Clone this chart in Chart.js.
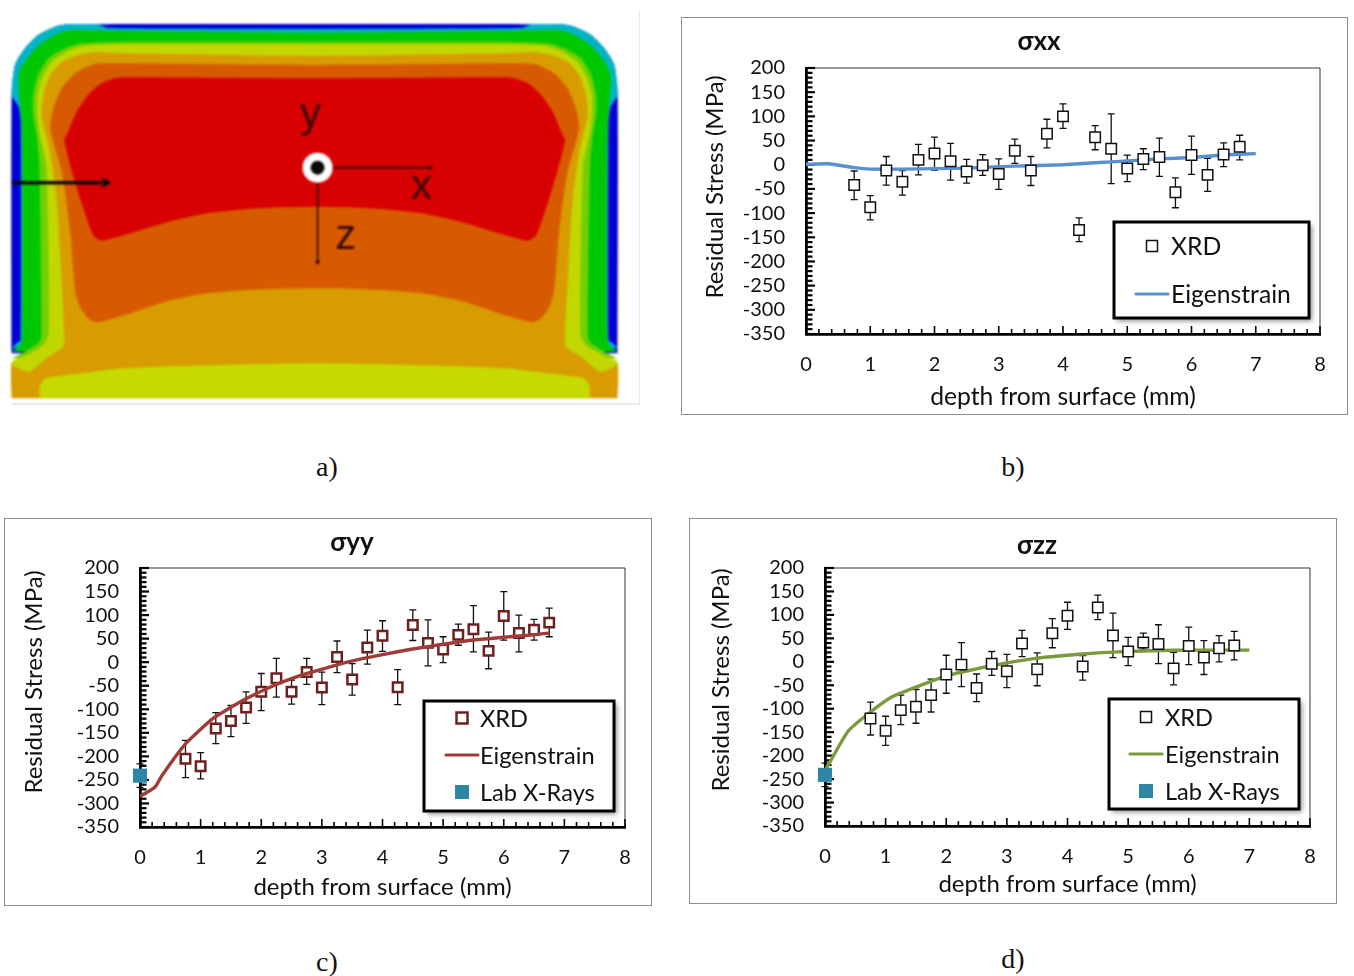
<!DOCTYPE html>
<html>
<head>
<meta charset="utf-8">
<title>Residual stress</title>
<script src="https://cdn.jsdelivr.net/npm/chart.js@4/dist/chart.umd.min.js"></script>
<style>
  html, body { margin: 0; width: 1354px; height: 976px; background: #fff; overflow: hidden; }
  canvas { position: absolute; }
  .panel { position: absolute; border: 1px solid #8c8c8c; box-sizing: border-box; }
  .cap { position: absolute; font: 28px "Liberation Serif", serif; color: #111; transform: translate(-50%, -50%); }
  .edge { position: absolute; background: #e9e9e9; }
</style>
</head>
<body>
<div class="edge" style="left:12px;top:403px;width:628px;height:2px"></div>
<div class="edge" style="left:639px;top:10px;width:1px;height:394px"></div>
<div class="panel" style="left:681px;top:17px;width:667px;height:398px"></div>
<div class="panel" style="left:4px;top:518px;width:648px;height:388px"></div>
<div class="panel" style="left:689px;top:518px;width:648px;height:386px"></div>
<canvas id="contour" width="650" height="420" style="left:0;top:0;filter:blur(1.1px)"></canvas>
<canvas id="chart-xx" width="664" height="396" style="left:682px;top:18px"></canvas>
<canvas id="chart-yy" width="645" height="386" style="left:5px;top:519px"></canvas>
<canvas id="chart-zz" width="645" height="384" style="left:690px;top:519px"></canvas>
<div class="cap" style="left:327px;top:467px">a)</div>
<div class="cap" style="left:1013px;top:467px">b)</div>
<div class="cap" style="left:327px;top:962px">c)</div>
<div class="cap" style="left:1013px;top:959px">d)</div>
<script>
// XRD depths are the same for all three stress components
const depths = [0.75, 1, 1.25, 1.5, 1.75, 2, 2.25, 2.5, 2.75, 3, 3.25, 3.5, 3.75, 4, 4.25, 4.5, 4.75, 5, 5.25, 5.5, 5.75, 6, 6.25, 6.5, 6.75];

const xxValues = [-42, -88, -12, -35, 10, 23, 7, -14, -1, -19, 29, -12, 64, 100, -135, 57, 33, -8, 12, 16, -57, 20, -21, 21, 37];
const xxHigh = [-13, -64, 17, -12, 42, 57, 44, 11, 21, 12, 53, 17, 94, 126, -110, 81, 105, 20, 33, 55, -27, 59, 13, 45, 61];
const xxLow = [-72, -114, -42, -63, -21, -11, -32, -38, -22, -51, 3, -43, 35, 75, -159, 31, -39, -35, -10, -24, -89, -20, -55, -4, 10];
const xxLineDepth = [0, 0.35, 0.75, 1, 1.5, 2, 2.5, 3, 3.5, 4, 4.5, 5, 5.5, 6, 6.5, 7];
const xxLine = [1, 2, -6, -9, -9, -8, -7, -4, -2, 0, 4, 8, 12, 15, 20, 23];

const yyValues = [-205, -221, -141, -125, -96, -63, -34, -63, -21, -54, 11, -37, 31, 56, -53, 79, 41, 27, 58, 70, 24, 98, 62, 69, 84];
const yyHigh = [-166, -192, -107, -92, -63, -24, 8, -38, 8, -21, 45, -3, 68, 88, -16, 111, 90, 54, 81, 120, 64, 150, 100, 91, 115];
const yyLow = [-245, -248, -173, -158, -130, -103, -74, -89, -47, -90, -22, -70, -4, 23, -90, 46, -8, -1, 36, 22, -14, 47, 22, 47, 54];
const yyLineDepth = [0, 0.25, 0.36, 0.74, 1.2, 1.7, 2.2, 2.7, 3, 3.45, 4, 4.5, 5, 5.5, 6, 6.5, 6.75];
const yyLine = [-285, -265, -241, -175, -120, -81, -50, -26, -15, 1, 16, 28, 38, 47, 53, 58, 62];

const zzValues = [-121, -147, -103, -96, -71, -27, -6, -56, -4, -20, 39, -16, 61, 98, -10, 116, 56, 22, 41, 38, -14, 34, 9, 29, 35];
const zzHigh = [-86, -116, -71, -59, -37, 14, 41, -26, 22, 16, 67, 19, 92, 127, 13, 142, 104, 52, 61, 79, 20, 74, 45, 56, 65];
const zzLow = [-156, -178, -134, -131, -107, -67, -53, -85, -29, -55, 11, -51, 30, 69, -39, 90, 9, -8, 27, -4, -49, -6, -27, 0, 4];
const zzLineDepth = [0, 0.38, 0.75, 1.1, 1.5, 2, 2.75, 3.5, 4, 4.5, 5, 5.5, 6, 6.5, 7];
const zzLine = [-232, -148, -107, -75, -54, -30, -8, 8, 14, 19, 22, 24, 25, 25, 25];

const labDepth = [0];
const labValue = [-241];
const labHigh = [-216];
const labLow = [-266];

const depthTicks = [0, 1, 2, 3, 4, 5, 6, 7, 8];
const stressTicks = [200, 150, 100, 50, 0, -50, -100, -150, -200, -250, -300, -350];

// contour bands for panel a, left half only, in the units of its hidden axes
const blueBand = [[28, 1060], [28, 285], [36, 195], [60, 145], [92, 105], [133, 80], [165, 73], [759, 72]];
const cyanBand = [[28, 1045], [40, 1030], [50, 1020], [50, 370], [45, 320], [28, 285], [36, 195], [60, 145], [92, 105], [133, 80], [165, 73], [235, 73], [260, 84], [759, 86]];
const greenBand = [[28, 1055], [50, 1035], [54, 1000], [54, 450], [51, 345], [44, 245], [48, 210], [72, 165], [100, 130], [141, 100], [173, 90], [300, 93], [759, 98]];
const limeBand = [[28, 1075], [60, 1055], [92, 1030], [100, 1010], [95, 500], [88, 400], [80, 345], [80, 285], [92, 225], [117, 175], [157, 145], [197, 130], [302, 125], [759, 125]];
const yellowBand = [[28, 1125], [28, 1085], [65, 1065], [105, 1035], [118, 1000], [112, 500], [95, 400], [90, 345], [90, 285], [102, 232], [125, 185], [165, 152], [205, 137], [302, 133], [759, 133]];
const orangeBand = [[28, 1195], [28, 1095], [52, 1110], [72, 1115], [88, 1100], [117, 1070], [153, 1040], [155, 1000], [147, 800], [137, 600], [120, 450], [108, 390], [100, 345], [105, 285], [121, 225], [149, 185], [189, 165], [229, 157], [302, 160], [759, 168]];
const baseBand = [[96, 1195], [96, 1160], [109, 1135], [133, 1130], [302, 1105], [450, 1098], [759, 1090]];
const darkBand = [[759, 865], [680, 866], [600, 870], [500, 880], [400, 905], [302, 945], [233, 967], [213, 955], [193, 920], [181, 870], [170, 700], [150, 520], [121, 385], [129, 325], [149, 265], [181, 220], [221, 195], [253, 190], [302, 190], [759, 195]];
const redBand = [[759, 620], [680, 622], [600, 627], [500, 640], [400, 668], [300, 705], [245, 722], [225, 705], [200, 620], [175, 520], [155, 420], [161, 405], [185, 335], [213, 285], [245, 250], [278, 235], [302, 232], [759, 235]];

const bands = [blueBand, cyanBand, greenBand, limeBand, yellowBand, orangeBand, baseBand, darkBand, redBand];
const bandColors = ['#0000d2', '#00b4c4', '#00c800', '#70d000', '#c2d600', '#d89c00', '#c6da00', '#d85a00', '#d80000'];

const FONT = 'Lato, "Open Sans", sans-serif';

function mirror(half) {
  const rest = half.slice(0, -1).reverse().map(p => ({ x: 1520 - p[0], y: p[1] }));
  return half.map(p => ({ x: p[0], y: p[1] })).concat(rest);
}

function drawContour() {
  const sets = bands.map((band, i) => ({
    data: mirror(band),
    showLine: true,
    tension: 0.2,
    fill: 'shape',
    backgroundColor: bandColors[i],
    borderColor: bandColors[i],
    borderWidth: 0,
    pointRadius: 0,
    order: 20 - i
  }));

  // arrows and the origin marker
  sets.push({ data: [{ x: 28, y: 548 }, { x: 245, y: 548 }], showLine: true, borderColor: '#0a0a0a', borderWidth: 3.5, pointRadius: 0, order: 5 });
  sets.push({ data: [{ x: 255, y: 548 }], pointStyle: 'triangle', rotation: 90, pointRadius: 6, backgroundColor: '#0a0a0a', borderWidth: 0, order: 4 });
  sets.push({ data: [{ x: 805, y: 503 }, { x: 1040, y: 503 }], showLine: true, borderColor: '#2a0808', borderWidth: 1.6, pointRadius: 0, order: 5 });
  sets.push({ data: [{ x: 1040, y: 503 }], pointStyle: 'triangle', rotation: 90, pointRadius: 3, backgroundColor: '#2a0808', borderWidth: 0, order: 4 });
  sets.push({ data: [{ x: 767, y: 548 }, { x: 767, y: 785 }], showLine: true, borderColor: '#2a0808', borderWidth: 1.6, pointRadius: 0, order: 5 });
  sets.push({ data: [{ x: 767, y: 787 }], pointStyle: 'triangle', rotation: 180, pointRadius: 3, backgroundColor: '#2a0808', borderWidth: 0, order: 4 });
  sets.push({ data: [{ x: 767, y: 503 }], pointRadius: 7, backgroundColor: '#0a0a0a', borderWidth: 0, order: 2 });
  sets.push({ data: [{ x: 767, y: 503 }], pointRadius: 15, backgroundColor: '#fff', borderWidth: 0, order: 3 });

  const axisLetters = {
    id: 'axisLetters',
    afterDatasetsDraw(chart) {
      const c = chart.ctx;
      c.save();
      c.font = '42px "Liberation Sans", sans-serif';
      c.fillStyle = '#3a0a06';
      c.textAlign = 'center';
      c.textBaseline = 'alphabetic';
      c.fillText('y', chart.scales.x.getPixelForValue(750), chart.scales.y.getPixelForValue(380));
      c.fillText('x', chart.scales.x.getPixelForValue(1018), chart.scales.y.getPixelForValue(597));
      c.fillText('z', chart.scales.x.getPixelForValue(835), chart.scales.y.getPixelForValue(747));
      c.restore();
    }
  };

  new Chart(document.getElementById('contour'), {
    type: 'scatter',
    data: { datasets: sets },
    options: {
      responsive: false,
      animation: false,
      layout: { padding: 0, autoPadding: false },
      plugins: { legend: { display: false }, tooltip: { enabled: false } },
      scales: {
        x: { display: false, min: 0, max: 1570 },
        y: { display: false, min: 0, max: 1260, reverse: true }
      }
    },
    plugins: [axisLetters]
  });
}

// title and y label sit off centre in the source, so they are placed by hand
const panelText = {
  id: 'panelText',
  afterDraw(chart, args, o) {
    const c = chart.ctx;
    c.save();
    c.textAlign = 'center';
    c.textBaseline = 'middle';
    c.fillStyle = '#111';
    c.font = 'bold 26px ' + FONT;
    c.fillText(o.title, o.titleAt[0], o.titleAt[1]);
    c.translate(o.yLabelAt[0], o.yLabelAt[1]);
    c.rotate(-Math.PI / 2);
    c.font = '24px ' + FONT;
    c.fillText('Residual Stress (MPa)', 0, 0);
    c.restore();
  }
};

// Excel style ticks pointing into the plot, plus the thin frame and error bars, all under the markers
const underlay = {
  id: 'underlay',
  beforeDatasetsDraw(chart, args, opts) {
    const c = chart.ctx, sx = chart.scales.x, sy = chart.scales.y, a = chart.chartArea;
    c.save();
    c.strokeStyle = '#333';
    c.lineWidth = 1;
    c.beginPath();
    c.moveTo(a.left, a.top); c.lineTo(a.right, a.top); c.lineTo(a.right, a.bottom);
    c.stroke();
    c.strokeStyle = '#000';
    c.lineWidth = 2.2;
    for (let v = -350; v <= 200; v += 10) {
      const py = sy.getPixelForValue(v);
      c.beginPath();
      c.moveTo(a.left, py); c.lineTo(a.left + (v % 50 === 0 ? 9 : 6.5), py);
      c.stroke();
    }
    c.lineWidth = 1.6;
    for (let k = 0; k <= 40; k++) {
      const px = sx.getPixelForValue(k / 5);
      c.beginPath();
      c.moveTo(px, a.bottom); c.lineTo(px, a.bottom - (k % 5 === 0 ? 8 : 5));
      c.stroke();
    }
    c.strokeStyle = '#111';
    c.lineWidth = 1.3;
    opts.groups.forEach(g => {
      g.x.forEach((d, i) => {
        const px = sx.getPixelForValue(d);
        const hi = sy.getPixelForValue(g.high[i]);
        const lo = sy.getPixelForValue(g.low[i]);
        c.beginPath();
        c.moveTo(px, hi); c.lineTo(px, lo);
        c.moveTo(px - 3.5, hi); c.lineTo(px + 3.5, hi);
        c.moveTo(px - 3.5, lo); c.lineTo(px + 3.5, lo);
        c.stroke();
      });
    });
    c.restore();
  }
};

// boxed legend with a soft shadow, like the spreadsheet one
const boxLegend = {
  id: 'boxLegend',
  afterDraw(chart, args, o) {
    const c = chart.ctx, b = o.box;
    c.save();
    c.shadowColor = 'rgba(0,0,0,0.45)';
    c.shadowBlur = 5;
    c.shadowOffsetX = 3;
    c.shadowOffsetY = 3;
    c.fillStyle = '#fff';
    c.fillRect(b[0], b[1], b[2], b[3]);
    c.restore();

    c.save();
    c.strokeStyle = '#000';
    c.lineWidth = 3;
    c.strokeRect(b[0], b[1], b[2], b[3]);
    c.font = o.fontSize + 'px ' + FONT;
    c.fillStyle = '#111';
    c.textBaseline = 'middle';
    o.rows.forEach(r => {
      c.fillText(r.text, o.textX, r.y + 1);
      if (r.kind === 'xrd') {
        c.fillStyle = '#fff';
        c.strokeStyle = o.markerColor;
        c.lineWidth = o.markerWidth;
        c.fillRect(o.markerX - 5.5, r.y - 5.5, 11, 11);
        c.strokeRect(o.markerX - 5.5, r.y - 5.5, 11, 11);
        c.fillStyle = '#111';
      } else if (r.kind === 'line') {
        c.strokeStyle = o.lineColor;
        c.lineWidth = 3.2;
        c.lineCap = 'round';
        c.beginPath();
        c.moveTo(o.markerX - 16, r.y); c.lineTo(o.markerX + 16, r.y);
        c.stroke();
      } else {
        c.fillStyle = '#2e86a4';
        c.fillRect(o.markerX - 7, r.y - 7, 14, 14);
        c.fillStyle = '#111';
      }
    });
    c.restore();
  }
};

function stressChart(p) {
  const toPoints = (xs, ys) => xs.map((x, i) => ({ x: x, y: ys[i] }));
  const sets = [
    {
      label: 'XRD',
      data: toPoints(depths, p.values),
      pointStyle: 'rect',
      pointRadius: p.markerRadius,
      pointBorderWidth: p.markerWidth,
      pointBorderColor: p.markerColor,
      pointBackgroundColor: '#fff',
      order: 2
    },
    {
      label: 'Eigenstrain',
      data: toPoints(p.lineDepth, p.line),
      showLine: true,
      tension: 0.15,
      borderColor: p.lineColor,
      borderWidth: 3.4,
      pointRadius: 0,
      order: p.lineOnTop ? 1 : 3
    }
  ];
  if (p.lab) {
    sets.push({
      label: 'Lab X-Rays',
      data: toPoints(labDepth, labValue),
      pointStyle: 'rect',
      pointRadius: 10,
      pointBackgroundColor: '#2e86a4',
      pointBorderWidth: 0,
      clip: false,
      order: 0
    });
  }

  const groups = [{ x: depths, high: p.high, low: p.low }];
  if (p.lab) groups.push({ x: labDepth, high: labHigh, low: labLow });

  new Chart(document.getElementById(p.id), {
    type: 'scatter',
    data: { datasets: sets },
    options: {
      responsive: false,
      animation: false,
      layout: { padding: { top: p.padTop, right: p.padRight }, autoPadding: false },
      plugins: {
        legend: { display: false },
        tooltip: { enabled: false },
        panelText: { title: p.title, titleAt: p.titleAt, yLabelAt: p.yLabelAt },
        underlay: { groups: groups },
        boxLegend: p.legend
      },
      scales: {
        x: {
          type: 'linear',
          min: depthTicks[0],
          max: depthTicks[depthTicks.length - 1],
          afterBuildTicks: s => { s.ticks = depthTicks.map(v => ({ value: v })); },
          afterFit: s => { s.height = p.xHeight; },
          grid: { display: false },
          border: { display: true, color: '#000', width: 2.8 },
          ticks: { color: '#111', font: { family: FONT, size: 20 }, padding: 11, maxRotation: 0 },
          title: {
            display: true,
            text: 'depth from surface (mm)',
            color: '#111',
            font: { family: FONT, size: p.xTitleSize },
            padding: { top: 0, bottom: p.xTitlePad }
          }
        },
        y: {
          min: -350,
          max: 200,
          afterBuildTicks: s => { s.ticks = stressTicks.map(v => ({ value: v })); },
          afterFit: s => { s.width = p.yWidth; },
          grid: { display: false },
          border: { display: true, color: '#000', width: 2.8 },
          ticks: { color: '#111', font: { family: FONT, size: 20 }, padding: 13, autoSkip: false }
        }
      }
    },
    plugins: [underlay, panelText, boxLegend]
  });
}

drawContour();

stressChart({
  id: 'chart-xx', title: 'σxx',
  values: xxValues, high: xxHigh, low: xxLow, lineDepth: xxLineDepth, line: xxLine,
  lineColor: '#5a8fd2', markerColor: '#111', markerWidth: 1.5, markerRadius: 7.4, lab: false,
  padTop: 50, padRight: 26, titleAt: [357, 24], yLabelAt: [33, 169], xHeight: 80, xTitleSize: 24.7, xTitlePad: 2, yWidth: 124,
  legend: {
    box: [432, 204, 195, 96], fontSize: 24.7, textX: 489, markerX: 470, markerColor: '#111', markerWidth: 1.5, lineColor: '#5a8fd2',
    rows: [{ kind: 'xrd', text: 'XRD', y: 228 }, { kind: 'line', text: 'Eigenstrain', y: 276 }]
  }
});

stressChart({
  id: 'chart-yy', title: 'σyy',
  values: yyValues, high: yyHigh, low: yyLow, lineDepth: yyLineDepth, line: yyLine,
  lineColor: '#a03c38', markerColor: '#6e1f1f', markerWidth: 2.5, markerRadius: 6.7, lab: true, lineOnTop: true,
  padTop: 49, padRight: 25, titleAt: [347, 24], yLabelAt: [29, 163], xHeight: 78, xTitleSize: 24, xTitlePad: 3, yWidth: 135,
  legend: {
    box: [419, 182, 190, 110], fontSize: 23.6, textX: 475, markerX: 457, markerColor: '#6e1f1f', markerWidth: 2.5, lineColor: '#a03c38',
    rows: [{ kind: 'xrd', text: 'XRD', y: 199 }, { kind: 'line', text: 'Eigenstrain', y: 236 }, { kind: 'lab', text: 'Lab X-Rays', y: 273 }]
  }
});

stressChart({
  id: 'chart-zz', title: 'σzz',
  values: zzValues, high: zzHigh, low: zzLow, lineDepth: zzLineDepth, line: zzLine,
  lineColor: '#7a9a3c', markerColor: '#111', markerWidth: 1.5, markerRadius: 7.4, lab: true,
  padTop: 49, padRight: 25, titleAt: [347, 27], yLabelAt: [31, 161], xHeight: 77, xTitleSize: 24, xTitlePad: 4, yWidth: 135,
  legend: {
    box: [419, 180, 190, 110], fontSize: 23.6, textX: 475, markerX: 456, markerColor: '#111', markerWidth: 1.5, lineColor: '#7a9a3c',
    rows: [{ kind: 'xrd', text: 'XRD', y: 198 }, { kind: 'line', text: 'Eigenstrain', y: 235 }, { kind: 'lab', text: 'Lab X-Rays', y: 272 }]
  }
});
</script>
</body>
</html>
